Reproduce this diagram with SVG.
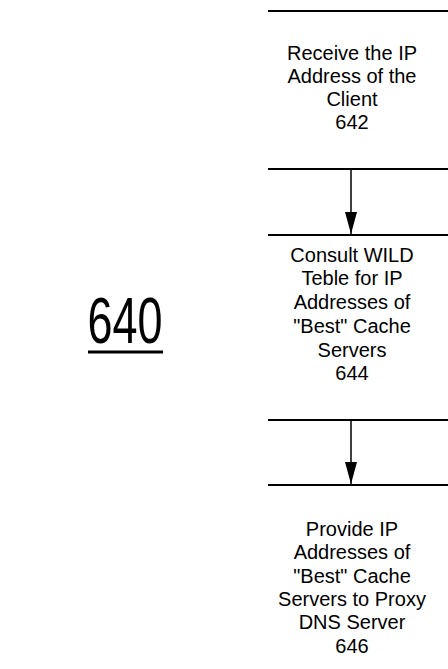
<svg xmlns="http://www.w3.org/2000/svg" width="448" height="669" viewBox="0 0 448 669">
<style>
.t{font-family:"Liberation Sans",Arial,sans-serif;font-size:20px;fill:#000;text-anchor:middle}
.edge{stroke:#000;stroke-width:1.5;fill:none}
.line{stroke:#000;stroke-width:2}
</style>
<defs>
<marker id="ah" viewBox="0 0 22 12" refX="22" refY="6" markerWidth="22" markerHeight="12" markerUnits="userSpaceOnUse" orient="auto">
<path d="M0,0 L22,6 L0,12 Z" fill="#000"/>
</marker>
</defs>
<rect width="448" height="669" fill="#fff"/>
<g id="label640">
<text x="125" y="343" font-family="Liberation Sans,Arial,sans-serif" font-size="64" text-anchor="middle" textLength="75" lengthAdjust="spacingAndGlyphs">640</text>
<line x1="88" y1="352" x2="163" y2="352" stroke="#000" stroke-width="3"/>
</g>
<g id="n642">
<line class="line" x1="268" y1="11" x2="448" y2="11"/>
<line class="line" x1="268" y1="169" x2="448" y2="169"/>
<text class="t" x="352" y="60">Receive the IP</text>
<text class="t" x="352" y="83">Address of the</text>
<text class="t" x="352" y="106">Client</text>
<text class="t" x="352" y="129">642</text>
</g>
<g id="n644">
<line class="line" x1="268" y1="235" x2="448" y2="235"/>
<line class="line" x1="268" y1="420" x2="448" y2="420"/>
<text class="t" x="352" y="262">Consult WILD</text>
<text class="t" x="352" y="285">Teble for IP</text>
<text class="t" x="352" y="309">Addresses of</text>
<text class="t" x="352" y="333">"Best" Cache</text>
<text class="t" x="352" y="357">Servers</text>
<text class="t" x="352" y="380">644</text>
</g>
<g id="n646">
<line class="line" x1="268" y1="485" x2="448" y2="485"/>
<text class="t" x="352" y="536">Provide IP</text>
<text class="t" x="352" y="559">Addresses of</text>
<text class="t" x="352" y="583">"Best" Cache</text>
<text class="t" x="352" y="606">Servers to Proxy</text>
<text class="t" x="352" y="629">DNS Server</text>
<text class="t" x="352" y="653">646</text>
</g>
<g id="connectors">
<line class="edge" x1="351" y1="169" x2="351" y2="234" marker-end="url(#ah)"/>
<line class="edge" x1="351" y1="420" x2="351" y2="484" marker-end="url(#ah)"/>
</g>
</svg>
